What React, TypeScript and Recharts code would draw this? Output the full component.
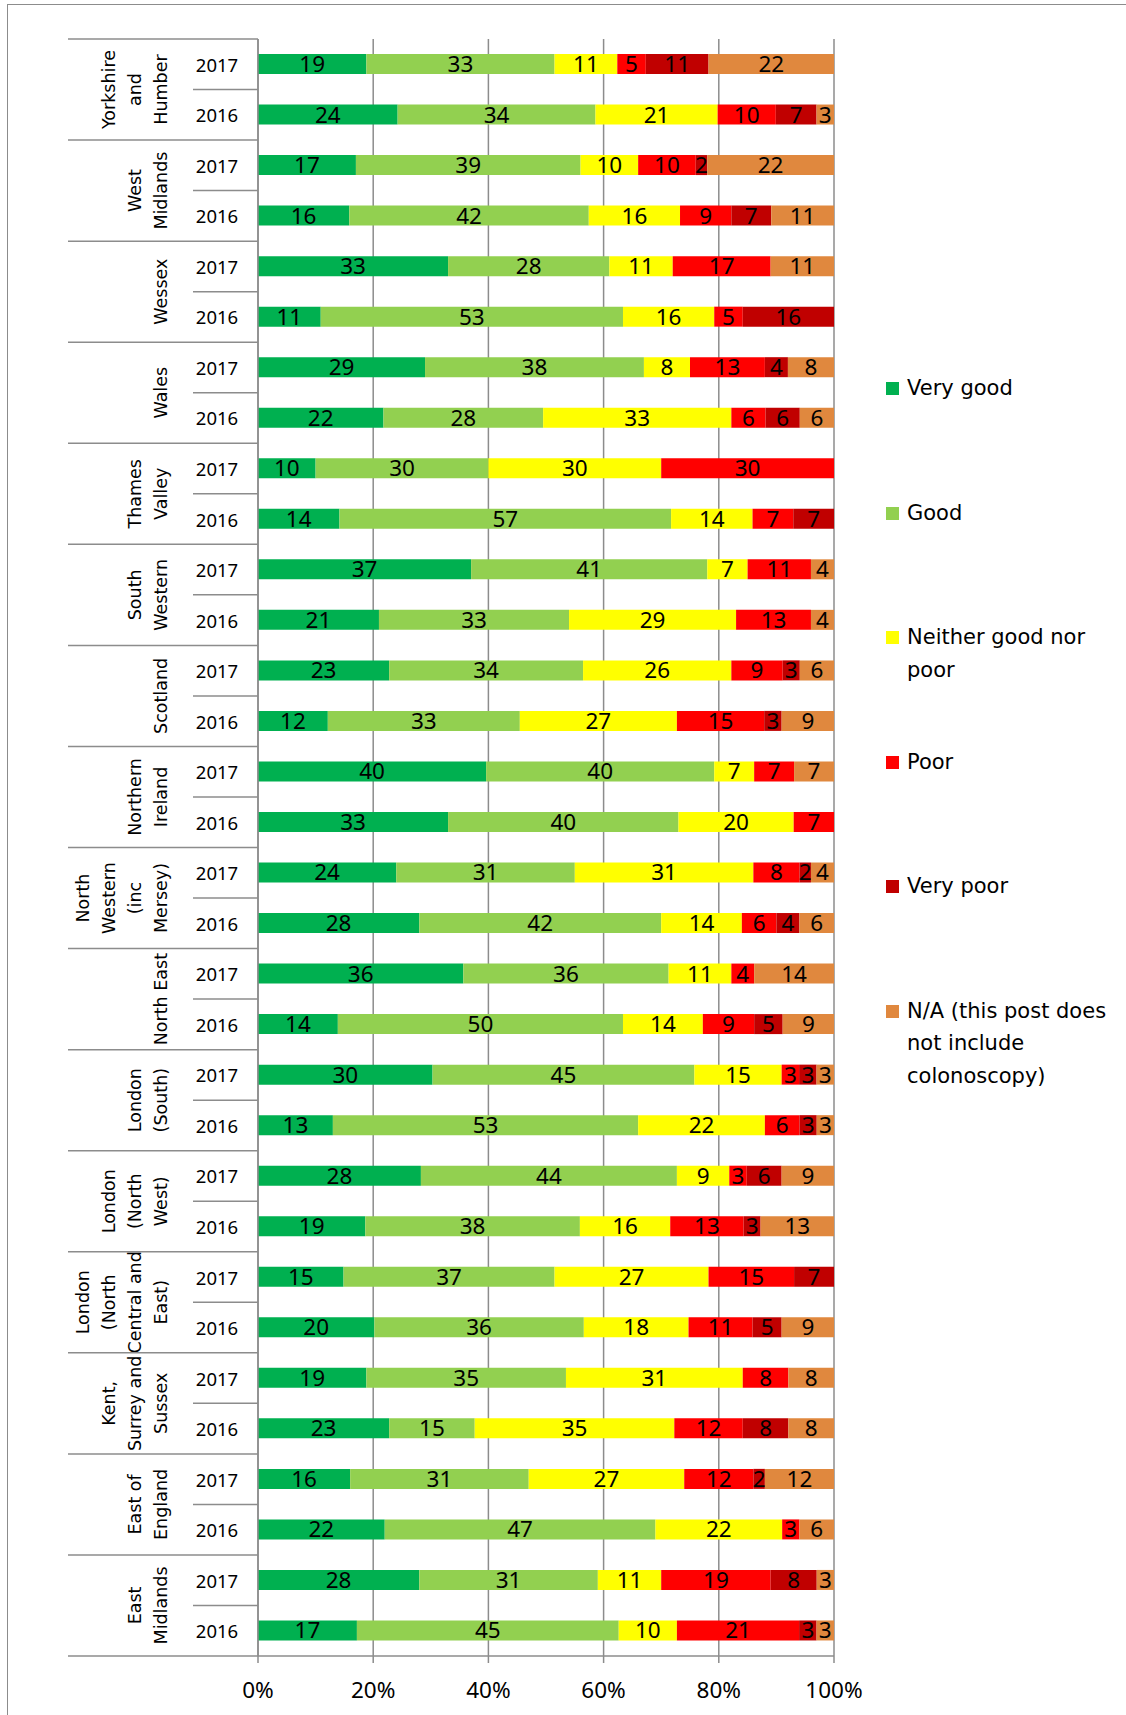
import React from "react";
import { BarChart, Bar, XAxis, YAxis, CartesianGrid, LabelList, Legend } from "recharts";

const REGIONS = [
  "Yorkshire and Humber",
  "West Midlands",
  "Wessex",
  "Wales",
  "Thames Valley",
  "South Western",
  "Scotland",
  "Northern Ireland",
  "North Western (inc Mersey)",
  "North East",
  "London (South)",
  "London (North West)",
  "London (North Central and East)",
  "Kent, Surrey and Sussex",
  "East of England",
  "East Midlands",
];
const YEARS = ["2017", "2016"];
const X_TICKS = [0, 0.2, 0.4, 0.6, 0.8, 1];

// one value per bar, in order: region by region, 2017 then 2016
const VERY_GOOD = [19, 24, 17, 16, 33, 11, 29, 22, 10, 14, 37, 21, 23, 12, 40, 33, 24, 28, 36, 14, 30, 13, 28, 19, 15, 20, 19, 23, 16, 22, 28, 17];
const GOOD = [33, 34, 39, 42, 28, 53, 38, 28, 30, 57, 41, 33, 34, 33, 40, 40, 31, 42, 36, 50, 45, 53, 44, 38, 37, 36, 35, 15, 31, 47, 31, 45];
const NEITHER = [11, 21, 10, 16, 11, 16, 8, 33, 30, 14, 7, 29, 26, 27, 7, 20, 31, 14, 11, 14, 15, 22, 9, 16, 27, 18, 31, 35, 27, 22, 11, 10];
const POOR = [5, 10, 10, 9, 17, 5, 13, 6, 30, 7, 11, 13, 9, 15, 7, 7, 8, 6, 4, 9, 3, 6, 3, 13, 15, 11, 8, 12, 12, 3, 19, 21];
const VERY_POOR = [11, 7, 2, 7, null, 16, 4, 6, null, 7, null, null, 3, 3, null, null, 2, 4, null, 5, 3, 3, 6, 3, 7, 5, null, 8, 2, null, 8, 3];
const NOT_APPLICABLE = [22, 3, 22, 11, 11, null, 8, 6, null, null, 4, 4, 6, 9, 7, null, 4, 6, 14, 9, 3, 3, 9, 13, null, 9, 8, 8, 12, 6, 3, 3];

const SERIES = [
  { key: "vg", name: "Very good", color: "#00B050", values: VERY_GOOD },
  { key: "g", name: "Good", color: "#92D050", values: GOOD },
  { key: "n", name: "Neither good nor poor", color: "#FFFF00", values: NEITHER },
  { key: "p", name: "Poor", color: "#FF0000", values: POOR },
  { key: "vp", name: "Very poor", color: "#C00000", values: VERY_POOR },
  { key: "na", name: "N/A (this post does not include colonoscopy)", color: "#E0883E", values: NOT_APPLICABLE },
];

const rows = REGIONS.flatMap((region, r) =>
  YEARS.map((year, k) => {
    const i = r * 2 + k;
    const row: Record<string, any> = { key: `${region}|${year}`, region, year };
    SERIES.forEach((s) => (row[s.key] = s.values[i]));
    return row;
  })
);

const W = 1126;
const H = 1715;
const TOP = 39;
const X_AXIS_H = 59;
const Y_AXIS_W = 258;
const RIGHT = 292;
const BAND = (H - TOP - X_AXIS_H) / rows.length;
const LINE = "#8c8c8c";
const NUM_FONT = "'Noto Sans', 'Open Sans', sans-serif";
const TEXT_FONT = "'DejaVu Sans', Verdana, sans-serif";
const REGION_SIZE = 17.5;

let measureCtx: CanvasRenderingContext2D | null = null;
function textWidth(s: string) {
  if (!measureCtx) measureCtx = document.createElement("canvas").getContext("2d");
  if (!measureCtx) return s.length * REGION_SIZE * 0.6;
  measureCtx.font = `${REGION_SIZE}px 'DejaVu Sans'`;
  return measureCtx.measureText(s).width;
}

function wrapWords(label: string, max: number) {
  const lines: string[] = [];
  let cur = "";
  label.split(" ").forEach((w) => {
    const next = cur ? cur + " " + w : w;
    if (cur && textWidth(next) > max) {
      lines.push(cur);
      cur = w;
    } else cur = next;
  });
  if (cur) lines.push(cur);
  return lines;
}

function CategoryTick(props: any) {
  const { y, payload, index } = props;
  const [region, year] = String(payload.value).split("|");
  const half = BAND / 2;
  const first = year === YEARS[0];
  const last = index === rows.length - 1;
  const lines = first ? wrapWords(region, 104) : [];
  return (
    <g>
      <text x={217} y={y} textAnchor="middle" dominantBaseline="central" fontSize={18.5} fontFamily={NUM_FONT} fill="#000">
        {year}
      </text>
      {first && <line x1={68} x2={Y_AXIS_W} y1={y - half} y2={y - half} stroke={LINE} strokeWidth={1.5} />}
      {first && <line x1={193} x2={Y_AXIS_W} y1={y + half} y2={y + half} stroke={LINE} strokeWidth={1.5} />}
      {last && <line x1={68} x2={Y_AXIS_W} y1={y + half} y2={y + half} stroke={LINE} strokeWidth={1.5} />}
      {lines.map((ln, j) => {
        const cx = 161 - (lines.length - 1 - j) * 26;
        const cy = y + half;
        return (
          <text
            key={j}
            x={cx}
            y={cy}
            textAnchor="middle"
            dominantBaseline="central"
            transform={`rotate(-90, ${cx}, ${cy})`}
            fontSize={REGION_SIZE}
            fontFamily={TEXT_FONT}
            fill="#000"
          >
            {ln}
          </text>
        );
      })}
    </g>
  );
}

function LegendContent({ payload }: any) {
  const order = SERIES.map((s) => s.name);
  const items = [...(payload || [])].sort((a: any, b: any) => order.indexOf(a.value) - order.indexOf(b.value));
  return (
    <div style={{ position: "relative" }}>
      {items.map((p: any, i: number) => (
        <div key={p.value} style={{ position: "absolute", left: 0, top: i * 124.5, display: "flex", alignItems: "flex-start" }}>
          <span style={{ width: 13, height: 13, background: p.color, marginTop: 10, marginLeft: 2, flex: "none" }} />
          <span style={{ marginLeft: 8, width: 217, lineHeight: "32.6px", fontSize: 21, fontFamily: TEXT_FONT, color: "#000" }}>
            {p.value}
          </span>
        </div>
      ))}
    </div>
  );
}

const showValue = (v: any) => (v == null || v === 0 ? "" : v);

export default function App() {
  return (
    <div style={{ position: "absolute", left: 0, top: 0, width: W, height: H, background: "#fff", overflow: "hidden" }}>
      <div
        style={{
          position: "absolute",
          left: 7,
          top: 4,
          width: W + 50,
          height: H + 50,
          borderLeft: `1.5px solid ${LINE}`,
          borderTop: `1.5px solid ${LINE}`,
        }}
      />
      <BarChart
        width={W}
        height={H}
        data={rows}
        layout="vertical"
        stackOffset="expand"
        margin={{ top: TOP, right: RIGHT, bottom: 0, left: 0 }}
        barSize={20}
      >
        <CartesianGrid horizontal={false} stroke={LINE} strokeWidth={1.5} />
        <XAxis
          type="number"
          domain={[0, 1]}
          ticks={X_TICKS}
          tickFormatter={(v: number) => `${Math.round(v * 100)}%`}
          height={X_AXIS_H}
          axisLine={{ stroke: LINE, strokeWidth: 1.5 }}
          tickLine={{ stroke: LINE, strokeWidth: 1.5 }}
          tickSize={7}
          tickMargin={19}
          tick={{ fill: "#000", fontSize: 22.5, fontFamily: NUM_FONT }}
        />
        <YAxis
          type="category"
          dataKey="key"
          width={Y_AXIS_W}
          interval={0}
          axisLine={{ stroke: LINE, strokeWidth: 1.5 }}
          tickLine={false}
          tick={<CategoryTick />}
        />
        <Legend
          layout="vertical"
          align="center"
          verticalAlign="middle"
          content={<LegendContent />}
          wrapperStyle={{ left: 884, top: 372, width: 240, height: 720 }}
        />
        {SERIES.map((s) => (
          <Bar key={s.key} dataKey={s.key} name={s.name} stackId="a" fill={s.color} isAnimationActive={false}>
            <LabelList
              dataKey={s.key}
              position="center"
              formatter={showValue}
              fill="#000"
              fontSize={22.5}
              fontFamily={NUM_FONT}
            />
          </Bar>
        ))}
      </BarChart>
    </div>
  );
}
